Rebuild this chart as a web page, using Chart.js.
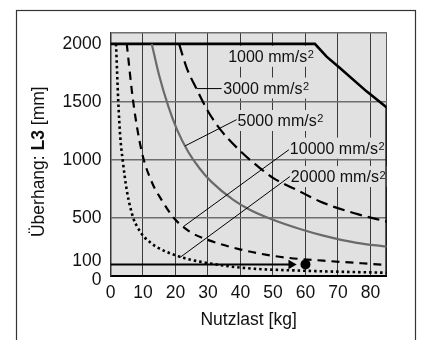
<!DOCTYPE html>
<html><head><meta charset="utf-8">
<script src="https://cdn.jsdelivr.net/npm/chart.js@4.4.1/dist/chart.umd.min.js"></script>
<style>html,body{margin:0;padding:0;background:#fff;}#wrap{width:422px;height:340px;}</style>
</head><body><div id="wrap"><canvas id="c" width="422" height="340"></canvas></div>
<script>
const FONT = '"Liberation Sans", Arial, Helvetica, sans-serif';

// axis ticks
const X_TICKS = [0, 10, 20, 30, 40, 50, 60, 70, 80, 85];
const X_TICK_LABELS = ['0', '10', '20', '30', '40', '50', '60', '70', '80', ''];
const Y_TICKS = [0, 100, 500, 1000, 1500, 2000, 2100];
const Y_TICK_LABELS = ['0', '100', '500', '1000', '1500', '2000', ''];

// series names
const SERIES = ['1000 mm/s', '3000 mm/s', '5000 mm/s', '10000 mm/s', '20000 mm/s'];

// curve values: payload [kg] vs overhang L3 [mm]
const A1000_X = [0, 62.9, 66.5, 70.6, 78.8, 85, 85];
const A1000_Y = [2000, 2000, 1890, 1793, 1591, 1453, 0];
const A3000_X = [21.1, 23.5, 26.5, 30, 33.7, 40, 46, 50, 57.3, 65.5, 75.8, 85];
const A3000_Y = [2000, 1790, 1611, 1420, 1265, 1075, 930, 845, 742, 630, 535, 469];
const A5000_X = [12.7, 15, 17.8, 20.5, 23.9, 27.5, 31, 37.8, 43, 49.6, 58.3, 65.5, 75.8, 85];
const A5000_Y = [2000, 1725, 1461, 1259, 1071, 924, 813, 656, 569, 489, 405, 348, 286, 253];
const A10000_X = [5.0, 7.0, 9.6, 12.7, 15.7, 19.5, 24.5, 29.6, 39.8, 48.6, 55.2, 65.5, 77.3, 85];
const A10000_Y = [2000, 1500, 1073, 810, 656, 500, 380, 315, 230, 180, 155, 132, 110, 95];
const A20000_X = [1.7, 2.4, 3.0, 3.75, 5.0, 7.0, 8.2, 10.1, 12.2, 14.2, 21.4, 27.5, 40, 60, 85];
const A20000_Y = [2000, 1500, 1200, 1000, 740, 500, 426, 345, 290, 250, 165, 124, 72, 45, 28];

// example reading: arrow at 100 mm to the 60 kg point
const ARROW_X = [0, 56];
const ARROW_Y = [100, 100];
const HEAD_X = [55.6];
const HEAD_Y = [100];
const MARK_X = [60];
const MARK_Y = [100];

// leader lines from the curves to their labels
const LEAD3000_X = [26.5, 34.2];   const LEAD3000_Y = [1615, 1615];
const LEAD5000_X = [22.9, 38.8];   const LEAD5000_Y = [1120, 1347];
const LEAD10000_X = [22.4, 54.9];  const LEAD10000_Y = [425, 1088];
const LEAD20000_X = [21.4, 55.2];  const LEAD20000_Y = [160, 857];

// label anchors (left edge, vertical centre) in data units
const LABEL_AT = [[36.2, 1893], [34.7, 1620], [39.1, 1340], [55.2, 1102], [55.5, 857]];

const pts = (xs, ys) => xs.map((x, i) => ({x, y: ys[i]}));
const PLOT_BG = '#e1e1e1';

const lineDs = (xs, ys, o) => Object.assign({
  data: pts(xs, ys), borderColor: '#000', backgroundColor: '#000', borderWidth: 2,
  pointRadius: 0, fill: false, tension: 0
}, o);

const datasets = [
  lineDs(LEAD3000_X, LEAD3000_Y, {borderWidth: 1}),
  lineDs(LEAD5000_X, LEAD5000_Y, {borderWidth: 1}),
  lineDs(LEAD10000_X, LEAD10000_Y, {borderWidth: 1}),
  lineDs(LEAD20000_X, LEAD20000_Y, {borderWidth: 1}),
  lineDs(A5000_X, A5000_Y, {label: SERIES[2], borderColor: '#6a6a6a', borderWidth: 2.2, cubicInterpolationMode: 'monotone'}),
  lineDs(A3000_X, A3000_Y, {label: SERIES[1], borderWidth: 2.2, borderDash: [12, 6], cubicInterpolationMode: 'monotone'}),
  lineDs(A10000_X, A10000_Y, {label: SERIES[3], borderWidth: 2.2, borderDash: [8, 6], cubicInterpolationMode: 'monotone'}),
  lineDs(A20000_X, A20000_Y, {label: SERIES[4], borderWidth: 2.6, borderDash: [2.5, 3], cubicInterpolationMode: 'monotone'}),
  lineDs(A1000_X, A1000_Y, {label: SERIES[0], borderWidth: 2.6}),
  lineDs(ARROW_X, ARROW_Y, {borderWidth: 2}),
  lineDs(HEAD_X, HEAD_Y, {showLine: false, pointRadius: 5.5, pointStyle: 'triangle', rotation: 90, pointBorderWidth: 0}),
  lineDs(MARK_X, MARK_Y, {showLine: false, pointRadius: 5, pointStyle: 'circle', pointBorderWidth: 0})
];

const deco = {
  id: 'deco',
  beforeDraw(chart) {
    const {ctx, chartArea: a} = chart;
    ctx.save();
    ctx.fillStyle = '#fff';
    ctx.fillRect(0, 0, chart.width, chart.height);
    ctx.strokeStyle = '#333';
    ctx.lineWidth = 1.2;
    ctx.strokeRect(16.5, 10.5, 399, 400);
    ctx.fillStyle = PLOT_BG;
    ctx.fillRect(a.left, a.top, a.right - a.left, a.bottom - a.top);
    ctx.restore();
  },
  beforeDatasetsDraw(chart) {
    const {ctx} = chart;
    const xs = chart.scales.x, ys = chart.scales.y;
    ctx.save();
    SERIES.forEach((t, i) => {
      const x = xs.getPixelForValue(LABEL_AT[i][0]);
      const y = ys.getPixelForValue(LABEL_AT[i][1]);
      ctx.font = '16px ' + FONT;
      const w1 = ctx.measureText(t).width;
      ctx.font = '11px ' + FONT;
      const w2 = ctx.measureText('2').width;
      ctx.fillStyle = PLOT_BG;
      ctx.fillRect(x - 1, y - 10.5, w1 + w2 + 3, 21);
      ctx.fillStyle = '#111';
      ctx.textBaseline = 'alphabetic';
      ctx.textAlign = 'left';
      ctx.font = '16px ' + FONT;
      ctx.fillText(t, x, y + 5.7);
      ctx.font = '11px ' + FONT;
      ctx.fillText('2', x + w1 + 0.5, y + 2);
    });
    ctx.restore();
  },
  afterDraw(chart) {
    const {ctx, chartArea: a} = chart;
    const parts = [['Überhang: ', ''], ['L3', 'bold '], [' [mm]', '']];
    ctx.save();
    ctx.translate(44, (a.top + a.bottom) / 2 + 7.5);
    ctx.rotate(-Math.PI / 2);
    ctx.fillStyle = '#111';
    ctx.textBaseline = 'alphabetic';
    ctx.textAlign = 'left';
    let total = 0;
    parts.forEach(p => { ctx.font = p[1] + '17.5px ' + FONT; total += ctx.measureText(p[0]).width; });
    let cx = -total / 2;
    parts.forEach(p => { ctx.font = p[1] + '17.5px ' + FONT; ctx.fillText(p[0], cx, 0); cx += ctx.measureText(p[0]).width; });
    ctx.restore();
  }
};

new Chart(document.getElementById('c'), {
  type: 'line',
  data: {datasets},
  plugins: [deco],
  options: {
    responsive: false, animation: false, devicePixelRatio: 1,
    layout: {padding: {top: 32.3, right: 35.3, left: 0, bottom: 0}},
    plugins: {legend: {display: false}, tooltip: {enabled: false}},
    scales: {
      x: {
        type: 'linear', min: 0, max: 85,
        afterBuildTicks: s => { s.ticks = X_TICKS.map(v => ({value: v})); },
        afterFit: s => { s.height = 64; },
        ticks: {padding: 7, color: '#111', autoSkip: false, maxRotation: 0,
          font: {family: FONT, size: 17.5},
          callback: v => X_TICK_LABELS[X_TICKS.indexOf(v)]},
        grid: {drawTicks: false, lineWidth: 1,
          color: c => (c.tick && c.tick.value === 0) ? 'rgba(0,0,0,0)' : (c.tick && c.tick.value === 85 ? '#5a5a5a' : '#3a3a3a')},
        border: {display: true, color: '#000', width: 2},
        title: {display: true, text: 'Nutzlast [kg]', color: '#111',
          font: {family: FONT, size: 17.5}, padding: {top: 0, bottom: 9.8}}
      },
      y: {
        type: 'linear', min: 0, max: 2100,
        afterBuildTicks: s => { s.ticks = Y_TICKS.map(v => ({value: v})); },
        afterFit: s => { s.width = 110.5; },
        ticks: {padding: 9, color: '#111', autoSkip: false,
          font: c => ({family: FONT, size: 17.5,
            lineHeight: (c.tick && (c.tick.value === 0 || c.tick.value === 100)) ? 0.42 : 1.2}),
          callback: v => {
            const t = Y_TICK_LABELS[Y_TICKS.indexOf(v)];
            if (v === 100) return [t, ''];
            if (v === 0) return ['', t];
            return t;
          }},
        grid: {drawTicks: false, lineWidth: 1.5,
          color: c => {
            const v = c.tick ? c.tick.value : null;
            return (v === 0 || v === 100 || v === 2000) ? 'rgba(0,0,0,0)' : '#6e6e6e';
          }},
        border: {display: true, color: '#333', width: 1.5},
        title: {display: false}
      }
    }
  }
});
</script></body></html>
